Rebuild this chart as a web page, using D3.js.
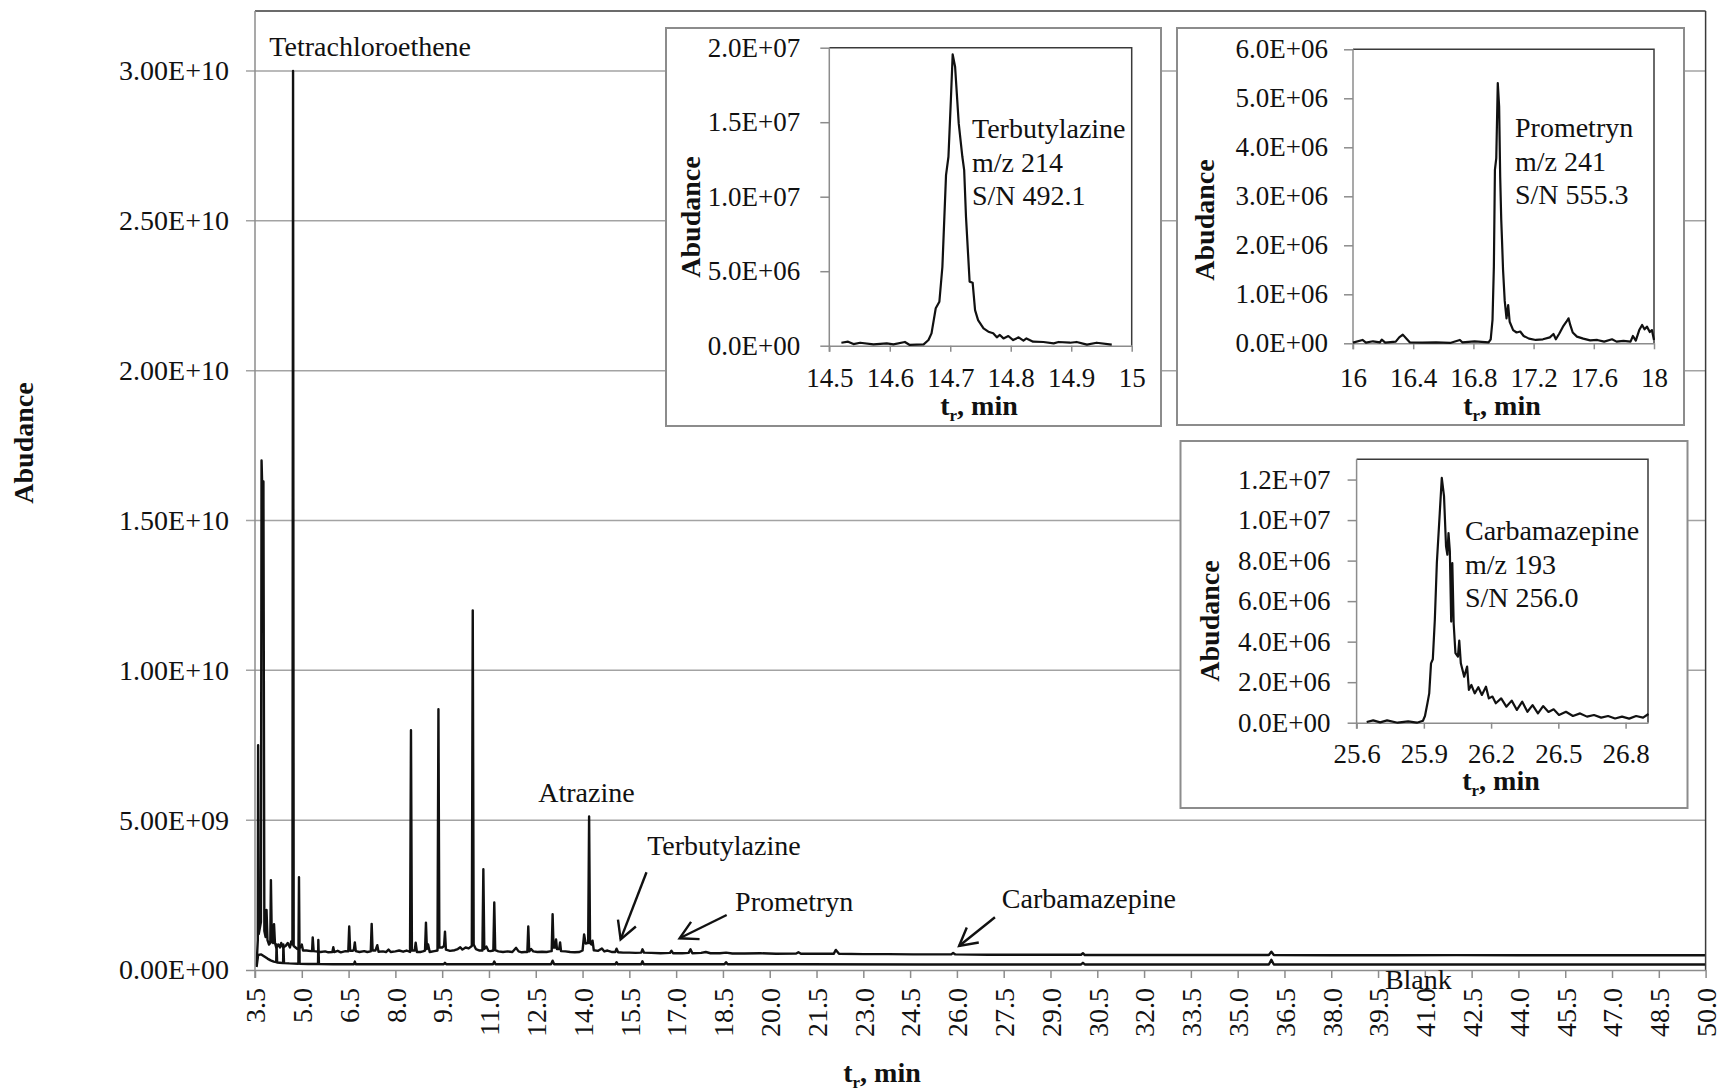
<!DOCTYPE html>
<html>
<head>
<meta charset="utf-8">
<script src="https://cdn.jsdelivr.net/npm/d3@7"></script>
<style>
body{margin:0;background:#fff;}
svg{display:block;font-family:"Liberation Serif","Times New Roman",serif;}
</style>
</head>
<body>
<svg id="chart" width="1719" height="1091"></svg>
<script>
// ---- values ----
var mainXTicks = [3.5,5.0,6.5,8.0,9.5,11.0,12.5,14.0,15.5,17.0,18.5,20.0,21.5,23.0,24.5,26.0,
                  27.5,29.0,30.5,32.0,33.5,35.0,36.5,38.0,39.5,41.0,42.5,44.0,45.5,47.0,48.5,50.0];
var mainYTicks = [0,5e9,1e10,1.5e10,2e10,2.5e10,3e10];

// sample chromatogram, [t_r (min), abundance]
var sampleTrace = [[3.55,1.5e8],[3.59,1.0e9],[3.60,7.5e9],[3.62,1.2e9],[3.69,1.6e9],[3.71,1.70e10],[3.74,1.58e10],
 [3.77,1.63e10],[3.80,1.3e9],[3.84,1.1e9],[3.87,2.0e9],[3.90,1.0e9],[3.95,8.5e8],[3.99,9e8],[4.01,3.0e9],[4.04,9.5e8],
 [4.08,9e8],[4.11,1.53e9],[4.14,9e8],[4.18,7.5e8],[4.25,8.5e8],[4.30,7.5e8],[4.34,9e8],[4.40,7.5e8],[4.48,8e8],
 [4.55,9e8],[4.62,7.5e8],[4.66,9.5e8],[4.70,8.5e8],[4.72,3.0e10],[4.74,8e8],[4.80,7.5e8],[4.86,7.0e8],[4.95,7.5e8],
 [5.00,8.5e8],[5.04,6.5e8],[5.15,6.5e8],[5.30,6.3e8],[5.33,6.3e8],[5.35,1.09e9],[5.38,6.3e8],[5.45,6.2e8],[5.60,6.0e8],
 [5.75,6.2e8],[5.85,5.9e8],[5.98,6.0e8],[6.01,7.6e8],[6.04,6.0e8],[6.15,6.4e8],[6.25,5.9e8],[6.40,6.3e8],[6.49,6.2e8],
 [6.52,1.45e9],[6.55,6.4e8],[6.63,6.4e8],[6.67,6.8e8],[6.70,9.2e8],[6.73,6.3e8],[6.85,6.0e8],[7.00,6.3e8],[7.10,6.0e8],
 [7.21,6.2e8],[7.24,1.54e9],[7.27,6.5e8],[7.36,6.5e8],[7.42,8.3e8],[7.46,6.1e8],[7.60,6.2e8],[7.70,6.0e8],[7.78,6.8e8],
 [7.85,6.0e8],[8.00,6.2e8],[8.12,6.5e8],[8.25,6.1e8],[8.36,6.5e8],[8.47,6.0e8],[8.50,8.0e9],[8.53,6.5e8],[8.62,6.5e8],
 [8.65,9.1e8],[8.69,6.0e8],[8.80,6.0e8],[8.88,6.2e8],[8.95,6.5e8],[8.98,1.58e9],[9.01,7.0e8],[9.05,8.5e8],[9.10,6.0e8],
 [9.25,6.3e8],[9.35,6.5e8],[9.38,8.7e9],[9.41,7.5e8],[9.50,7.5e8],[9.56,8.0e8],[9.59,1.28e9],[9.62,6.8e8],[9.75,6.4e8],
 [9.90,6.6e8],[10.00,7.0e8],[10.08,7.6e8],[10.15,6.8e8],[10.25,7.5e8],[10.35,7.2e8],[10.45,8.0e8],[10.48,1.2e10],
 [10.51,8.5e8],[10.58,7.0e8],[10.70,6.5e8],[10.79,6.5e8],[10.82,3.36e9],[10.85,7.0e8],[10.92,7.8e8],[10.98,6.4e8],
 [11.05,6.3e8],[11.14,6.5e8],[11.17,2.25e9],[11.20,6.6e8],[11.30,6.2e8],[11.45,6.0e8],[11.60,6.2e8],[11.75,6.0e8],
 [11.87,7.4e8],[11.95,6.2e8],[12.05,5.9e8],[12.15,6.0e8],[12.23,6.0e8],[12.26,1.45e9],[12.29,6.2e8],[12.35,7.0e8],
 [12.42,6.2e8],[12.55,6.0e8],[12.70,6.1e8],[12.85,6.0e8],[12.95,6.2e8],[13.01,6.3e8],[13.04,1.86e9],[13.07,7.5e8],
 [13.12,7.5e8],[13.15,1.02e9],[13.18,7.0e8],[13.25,7.0e8],[13.28,9.2e8],[13.31,6.3e8],[13.45,6.2e8],[13.60,6.0e8],
 [13.75,5.9e8],[13.90,6.0e8],[14.00,6.5e8],[14.05,1.19e9],[14.10,8.8e8],[14.15,9.0e8],[14.18,9.0e8],[14.21,5.12e9],
 [14.24,9.0e8],[14.29,8.5e8],[14.32,9.8e8],[14.36,6.6e8],[14.50,6.4e8],[14.62,7.2e8],[14.70,6.2e8],[14.80,6.5e8],
 [14.95,6.0e8],[15.05,6.0e8],[15.09,7.1e8],[15.14,5.9e8],[15.30,5.8e8],[15.50,5.8e8],[15.70,5.7e8],[15.88,5.8e8],
 [15.92,6.9e8],[15.97,5.8e8],[16.20,5.7e8],[16.50,5.6e8],[16.80,5.7e8],[16.85,6.4e8],[16.90,5.6e8],[17.20,5.6e8],
 [17.40,5.7e8],[17.46,6.9e8],[17.52,5.6e8],[17.80,5.7e8],[17.95,6.0e8],[18.10,5.6e8],[18.40,5.6e8],[18.60,5.8e8],
 [18.80,5.5e8],[19.20,5.5e8],[19.70,5.6e8],[20.20,5.4e8],[20.85,5.5e8],[20.92,5.9e8],[21.00,5.4e8],[21.60,5.4e8],
 [22.05,5.4e8],[22.12,6.7e8],[22.22,5.4e8],[23.00,5.3e8],[23.80,5.3e8],[24.60,5.2e8],[25.40,5.2e8],[25.82,5.2e8],
 [25.88,5.7e8],[25.95,5.2e8],[27.00,5.1e8],[28.00,5.1e8],[29.00,5.1e8],[29.98,5.1e8],[30.04,5.6e8],[30.10,5.0e8],
 [31.50,5.0e8],[33.00,5.0e8],[34.50,5.0e8],[36.00,5.0e8],[36.08,6.1e8],[36.16,5.0e8],[38.00,4.9e8],[40.00,4.9e8],
 [42.00,4.95e8],[44.00,4.9e8],[46.00,4.9e8],[48.00,4.9e8],[50.00,4.9e8]];

// blank run
var blankTrace = [[3.55,1.0e8],[3.60,5.0e8],[3.70,5.2e8],[3.80,4.5e8],[3.90,3.8e8],[4.00,3.2e8],[4.10,2.8e8],
 [4.18,2.6e8],[4.19,8.5e8],[4.21,2.5e8],[4.30,2.4e8],[4.40,2.3e8],[4.41,8.5e8],[4.43,2.3e8],[4.60,2.2e8],[4.89,2.1e8],
 [4.91,3.1e9],[4.93,2.1e8],[5.20,2.0e8],[5.52,2.0e8],[5.53,1.0e9],[5.55,2.0e8],[6.00,1.9e8],[6.67,1.9e8],[6.70,2.8e8],
 [6.73,1.9e8],[8.00,1.9e8],[9.55,1.9e8],[9.59,2.4e8],[9.63,1.9e8],[11.13,1.9e8],[11.17,2.8e8],[11.21,1.9e8],
 [12.99,1.9e8],[13.04,3.1e8],[13.09,1.9e8],[15.05,1.9e8],[15.09,2.6e8],[15.13,1.9e8],[15.88,1.9e8],[15.92,2.9e8],
 [15.96,1.9e8],[18.55,1.9e8],[18.60,2.6e8],[18.65,1.9e8],[21.0,1.9e8],[25.0,1.85e8],[29.98,1.85e8],[30.04,2.4e8],
 [30.10,1.85e8],[36.00,1.85e8],[36.08,3.4e8],[36.16,1.85e8],[40.0,1.85e8],[45.0,1.85e8],[50.0,1.85e8]];

// compound labels and arrows on the main chart, in data units
var mainLabels = [
  {text:'Tetrachloroethene', t:3.96,  v:3.05e10},
  {text:'Atrazine',          t:12.58, v:5.61e9},
  {text:'Terbutylazine',     t:16.07, v:3.84e9},
  {text:'Prometryn',         t:18.89, v:1.97e9},
  {text:'Carbamazepine',     t:27.44, v:2.07e9},
  {text:'Blank',             t:39.72, v:-6.3e8}
];
var mainArrows = [
  {t1:16.05, v1:3.26e9,  t2:15.22, v2:1.02e9},
  {t1:18.62, v1:1.835e9, t2:17.11, v2:1.058e9},
  {t1:27.22, v1:1.76e9,  t2:26.07, v2:8.0e8}
];

// extracted ion chromatograms (insets)
var terbTrace = [[14.520,2.0e5],[14.531,2.7e5],[14.540,1.1e5],[14.551,2.0e5],[14.573,0.9e5],[14.595,1.6e5],
 [14.606,0.9e5],[14.625,2.5e5],[14.633,0.5e5],[14.656,0.9e5],[14.664,3.8e5],[14.669,8.3e5],[14.676,2.51e6],
 [14.682,2.95e6],[14.687,5.3e6],[14.693,1.145e7],[14.697,1.268e7],[14.701,1.649e7],[14.704,1.955e7],[14.708,1.872e7],
 [14.714,1.492e7],[14.720,1.268e7],[14.723,1.179e7],[14.726,8.66e6],[14.732,4.30e6],[14.737,4.23e6],[14.741,2.39e6],
 [14.746,1.72e6],[14.755,1.16e6],[14.763,9.4e5],[14.771,8.3e5],[14.777,5.6e5],[14.782,7.2e5],[14.788,4.9e5],
 [14.796,6.5e5],[14.804,3.8e5],[14.813,5.6e5],[14.821,3.4e5],[14.826,4.9e5],[14.837,2.7e5],[14.854,2.5e5],
 [14.871,1.6e5],[14.879,2.5e5],[14.898,2.0e5],[14.909,2.5e5],[14.926,0.7e5],[14.942,2.0e5],[14.967,0.7e5]];
var terbNote = ['Terbutylazine','m/z 214','S/N 492.1'];

var promTrace = [[16.000,1.4e4],[16.063,6.8e4],[16.086,1.4e4],[16.133,4.1e4],[16.179,2.0e4],[16.191,7.5e4],
 [16.214,1.4e4],[16.284,3.4e4],[16.307,1.22e5],[16.331,1.77e5],[16.354,1.0e5],[16.377,2.0e4],[16.459,1.4e4],
 [16.552,2.0e4],[16.645,0.7e4],[16.710,6.8e4],[16.726,2.0e4],[16.808,4.1e4],[16.901,2.0e4],[16.915,8.2e4],
 [16.927,4.76e5],[16.936,1.565e6],[16.943,3.54e6],[16.952,3.78e6],[16.962,5.31e6],[16.971,4.83e6],[16.978,3.40e6],
 [16.985,2.52e6],[16.990,2.11e6],[16.997,1.50e6],[17.008,8.7e5],[17.020,5.1e5],[17.031,7.8e5],[17.041,4.4e5],
 [17.064,2.7e5],[17.087,2.2e5],[17.111,2.4e5],[17.134,1.5e5],[17.169,9.5e4],[17.215,6.8e4],[17.262,8.2e4],
 [17.308,1.22e5],[17.332,1.9e5],[17.348,8.2e4],[17.371,2.0e5],[17.395,3.4e5],[17.418,4.4e5],[17.432,5.1e5],
 [17.444,3.7e5],[17.460,2.2e5],[17.488,1.36e5],[17.530,9.5e4],[17.576,6.1e4],[17.623,6.8e4],[17.669,3.4e4],
 [17.721,8.2e4],[17.751,3.4e4],[17.797,4.8e4],[17.844,3.4e4],[17.860,1.5e5],[17.879,5.4e4],[17.902,2.7e5],
 [17.921,3.74e5],[17.937,2.86e5],[17.953,3.4e5],[17.972,2.3e5],[17.986,2.7e5],[18.000,6.8e4]];
var promNote = ['Prometryn','m/z 241','S/N 555.3'];

var carbTrace = [[25.645,3.3e4],[25.674,1.15e5],[25.705,1.6e4],[25.736,1.15e5],[25.783,0],[25.830,6.6e4],
 [25.869,0],[25.896,9.9e4],[25.905,3.3e5],[25.916,9.56e5],[25.924,1.45e6],[25.932,2.93e6],[25.940,3.13e6],
 [25.949,5.08e6],[25.958,7.88e6],[25.971,1.035e7],[25.980,1.208e7],[25.990,1.118e7],[25.999,8.70e6],[26.005,8.29e6],
 [26.010,9.36e6],[26.016,8.46e6],[26.022,4.99e6],[26.027,7.88e6],[26.033,4.91e6],[26.041,3.43e6],[26.052,3.26e6],
 [26.058,4.05e6],[26.065,2.93e6],[26.080,2.27e6],[26.093,2.77e6],[26.101,1.62e6],[26.112,1.86e6],[26.127,1.45e6],
 [26.143,1.75e6],[26.159,1.37e6],[26.177,1.78e6],[26.190,1.20e6],[26.206,1.29e6],[26.221,9.6e5],[26.245,1.20e6],
 [26.268,7.9e5],[26.292,1.09e6],[26.315,6.3e5],[26.339,1.04e6],[26.362,5.4e5],[26.385,8.7e5],[26.409,4.6e5],
 [26.432,8.2e5],[26.456,5.3e5],[26.479,6.6e5],[26.503,3.8e5],[26.534,5.4e5],[26.565,3.3e5],[26.597,4.6e5],
 [26.628,3.0e5],[26.659,3.8e5],[26.691,2.5e5],[26.722,3.3e5],[26.753,2.1e5],[26.784,3.0e5],[26.816,2.0e5],
 [26.847,3.3e5],[26.878,2.5e5],[26.902,4.3e5]];
var carbNote = ['Carbamazepine','m/z 193','S/N 256.0'];

// ---- drawing ----
var svg = d3.select('#chart');
var ink = '#111';
var axisGray = '#8c8c8c';
var gridGray = '#a3a3a3';

function sci(v, digits){
    var s = v.toExponential(digits).toUpperCase();
    return s.replace(/E([+-])(\d+)$/, function(m, sg, ex){ return 'E' + sg + (ex.length < 2 ? '0' + ex : ex); });
}

function axisTitle(g, x, y, rotate){
    var t = g.append('text')
        .attr('font-size', '28px')
        .attr('font-weight', 'bold')
        .attr('fill', ink)
        .attr('text-anchor', 'middle');
    if (rotate){
        t.attr('transform', 'translate(' + x + ',' + y + ') rotate(-90)').text('Abudance');
    } else {
        t.attr('x', x).attr('y', y);
        t.append('tspan').text('t');
        t.append('tspan').attr('font-size', '17px').attr('dy', 6).text('r');
        t.append('tspan').attr('dy', -6).text(', min');
    }
}

// main plot
var mx = d3.scaleLinear().domain([3.5, 50]).range([255, 1705.6]);
var my = d3.scaleLinear().domain([0, 3.2e10]).range([970, 11]);

var main = svg.append('g').attr('id', 'main');

// grid lines (with the outward tick stubs)
main.selectAll('line.grid')
    .data(mainYTicks.filter(function(d){ return d > 0; }))
    .enter().append('line')
    .attr('class', 'grid')
    .attr('x1', 246).attr('x2', mx(50))
    .attr('y1', function(d){ return my(d); })
    .attr('y2', function(d){ return my(d); })
    .attr('stroke', gridGray).attr('stroke-width', 1.5);

var line = d3.line()
    .x(function(d){ return mx(d[0]); })
    .y(function(d){ return my(d[1]); });

main.append('path').datum(blankTrace)
    .attr('d', line).attr('fill', 'none')
    .attr('stroke', ink).attr('stroke-width', 2.4).attr('stroke-linejoin', 'round');
main.append('path').datum(sampleTrace)
    .attr('d', line).attr('fill', 'none')
    .attr('stroke', ink).attr('stroke-width', 2.4).attr('stroke-linejoin', 'round');

// frame: top and right dark, axes grey
main.append('line').attr('x1', mx(3.5)).attr('x2', mx(50)).attr('y1', my(3.2e10)).attr('y2', my(3.2e10))
    .attr('stroke', '#3a3a3a').attr('stroke-width', 1.5);
main.append('line').attr('x1', mx(50)).attr('x2', mx(50)).attr('y1', my(3.2e10)).attr('y2', my(0))
    .attr('stroke', '#3a3a3a').attr('stroke-width', 1.5);

var yAxis = d3.axisLeft(my).tickValues(mainYTicks).tickSizeInner(9).tickSizeOuter(0).tickPadding(17)
    .tickFormat(function(d){ return sci(d, 2); });
var gy = main.append('g').attr('transform', 'translate(' + mx(3.5) + ',0)').call(yAxis);

var xAxis = d3.axisBottom(mx).tickValues(mainXTicks).tickSizeInner(8).tickSizeOuter(0)
    .tickFormat(function(d){ return d.toFixed(1); });
var gx = main.append('g').attr('transform', 'translate(0,' + my(0) + ')').call(xAxis);

[gx, gy].forEach(function(g){
    g.select('.domain').attr('stroke', axisGray).attr('stroke-width', 1.5);
    g.selectAll('.tick line').attr('stroke', axisGray).attr('stroke-width', 1.5);
    g.selectAll('.tick text').attr('fill', ink).attr('font-size', '28px')
        .attr('font-family', '"Liberation Serif","Times New Roman",serif');
});
gy.select('.domain').attr('d', 'M0,' + my(3.2e10) + 'V' + (my(0) + 8));
gy.selectAll('.tick line').attr('x2', function(d){ return d > 0 ? 0 : -9; });
gx.selectAll('.tick text')
    .attr('transform', 'rotate(-90)')
    .attr('text-anchor', 'end')
    .attr('x', -18).attr('y', 0).attr('dy', '0.35em');

axisTitle(main, 33, 443, true);
axisTitle(main, 882, 1082, false);

// inset panels
function drawInset(cfg){
    var g = svg.append('g');
    g.append('rect')
        .attr('x', cfg.box[0]).attr('y', cfg.box[1])
        .attr('width', cfg.box[2] - cfg.box[0]).attr('height', cfg.box[3] - cfg.box[1])
        .attr('fill', '#fff').attr('stroke', axisGray).attr('stroke-width', 2);

    var x = d3.scaleLinear().domain(cfg.xDomain).range([cfg.plot[0], cfg.plot[2]]);
    var y = d3.scaleLinear().domain(cfg.yDomain).range([cfg.plot[3], cfg.plot[1]]);

    g.append('polyline')
        .attr('points', [[cfg.plot[0], cfg.plot[1]], [cfg.plot[2], cfg.plot[1]], [cfg.plot[2], cfg.plot[3]]].join(' '))
        .attr('fill', 'none').attr('stroke', '#3a3a3a').attr('stroke-width', 1.5);

    var ya = d3.axisLeft(y).tickValues(cfg.yTicks).tickSizeInner(9).tickSizeOuter(0).tickPadding(cfg.yPad)
        .tickFormat(function(d){ return sci(d, 1); });
    var xa = d3.axisBottom(x).tickValues(cfg.xTicks).tickSizeInner(6).tickSizeOuter(0).tickPadding(10)
        .tickFormat(function(d){ return String(+d.toFixed(1)); });
    var gyi = g.append('g').attr('transform', 'translate(' + cfg.plot[0] + ',0)').call(ya);
    var gxi = g.append('g').attr('transform', 'translate(0,' + cfg.plot[3] + ')').call(xa);
    [gxi, gyi].forEach(function(a){
        a.select('.domain').attr('stroke', axisGray).attr('stroke-width', 1.5);
        a.selectAll('.tick line').attr('stroke', axisGray).attr('stroke-width', 1.5);
        a.selectAll('.tick text').attr('fill', ink).attr('font-size', '27px')
            .attr('font-family', '"Liberation Serif","Times New Roman",serif');
    });
    gyi.select('.domain').attr('d', 'M0,' + cfg.plot[1] + 'V' + (cfg.plot[3] + 6));
    gxi.selectAll('.tick text').attr('y', null).attr('dy', null).attr('y', cfg.xLabelBase - cfg.plot[3]);

    var il = d3.line()
        .x(function(d){ return x(d[0]); })
        .y(function(d){ return y(d[1]); });
    g.append('path').datum(cfg.trace)
        .attr('d', il).attr('fill', 'none')
        .attr('stroke', ink).attr('stroke-width', 2.2).attr('stroke-linejoin', 'round');

    g.append('g').selectAll('text')
        .data(cfg.note).enter().append('text')
        .attr('x', cfg.noteX)
        .attr('y', function(d, i){ return cfg.noteY + i * 33.5; })
        .attr('font-size', '28px').attr('fill', ink)
        .text(function(d){ return d; });

    axisTitle(g, cfg.yTitle[0], cfg.yTitle[1], true);
    axisTitle(g, cfg.xTitle[0], cfg.xTitle[1], false);
}

drawInset({
    box: [666, 28, 1161, 426], plot: [829.3, 47.7, 1131.7, 345.7],
    xDomain: [14.5, 15], yDomain: [0, 2e7],
    xTicks: [14.5, 14.6, 14.7, 14.8, 14.9, 15], yTicks: [0, 5e6, 1e7, 1.5e7, 2e7],
    yPad: 20, xLabelBase: 387,
    trace: terbTrace, note: terbNote, noteX: 972, noteY: 138,
    yTitle: [700, 217], xTitle: [979, 415]
});
drawInset({
    box: [1177, 28, 1684, 425], plot: [1353, 49.3, 1654, 343.3],
    xDomain: [16, 18], yDomain: [0, 6e6],
    xTicks: [16, 16.4, 16.8, 17.2, 17.6, 18], yTicks: [0, 1e6, 2e6, 3e6, 4e6, 5e6, 6e6],
    yPad: 16, xLabelBase: 387,
    trace: promTrace, note: promNote, noteX: 1515, noteY: 137,
    yTitle: [1214, 220], xTitle: [1502, 415]
});
drawInset({
    box: [1180.5, 441, 1687.5, 808], plot: [1356.6, 459.3, 1648, 722.7],
    xDomain: [25.6, 26.9], yDomain: [0, 1.3e7],
    xTicks: [25.6, 25.9, 26.2, 26.5, 26.8], yTicks: [0, 2e6, 4e6, 6e6, 8e6, 1e7, 1.2e7],
    yPad: 17, xLabelBase: 763,
    trace: carbTrace, note: carbNote, noteX: 1465, noteY: 540,
    yTitle: [1219, 621], xTitle: [1501, 790]
});

// compound labels and arrows
svg.append('g').selectAll('text')
    .data(mainLabels).enter().append('text')
    .attr('x', function(d){ return mx(d.t); })
    .attr('y', function(d){ return my(d.v); })
    .attr('font-size', '28px').attr('fill', ink)
    .text(function(d){ return d.text; });

var ag = svg.append('g').attr('stroke', ink).attr('stroke-width', 2.4).attr('fill', 'none');
mainArrows.forEach(function(a){
    var x1 = mx(a.t1), y1 = my(a.v1), x2 = mx(a.t2), y2 = my(a.v2);
    var ang = Math.atan2(y1 - y2, x1 - x2);
    var len = 20, spread = 0.5;
    ag.append('line').attr('x1', x1).attr('y1', y1).attr('x2', x2).attr('y2', y2);
    ag.append('polyline').attr('points', [
        [x2 + len * Math.cos(ang - spread), y2 + len * Math.sin(ang - spread)],
        [x2, y2],
        [x2 + len * Math.cos(ang + spread), y2 + len * Math.sin(ang + spread)]
    ].join(' '));
});
</script>
</body>
</html>
